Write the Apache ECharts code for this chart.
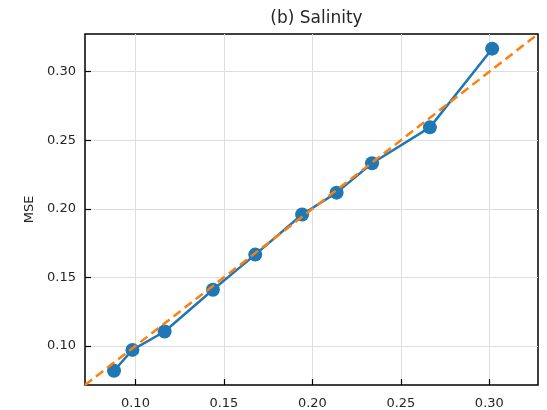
<!DOCTYPE html>
<html>
<head>
<meta charset="utf-8">
<script src="https://cdn.jsdelivr.net/npm/echarts@6/dist/echarts.min.js"></script>
<style>html,body{margin:0;padding:0;background:#fff;}#c{width:547px;height:410px;}</style>
</head>
<body>
<div id="c"></div>
<script>
const titleText = "(b) Salinity";
const yName = "MSE";
const xValues = [0.0879, 0.0983, 0.1165, 0.1438, 0.1677, 0.1942, 0.2137, 0.2337, 0.2664, 0.3016];
const yValues = [0.0819, 0.0971, 0.1105, 0.1410, 0.1666, 0.1959, 0.2118, 0.2332, 0.2594, 0.3168];
const tickValues = [0.10, 0.15, 0.20, 0.25, 0.30];
const axisMin = 0.0715;
const axisMax = 0.3275;

const chart = echarts.init(document.getElementById('c'), null, {renderer: 'canvas'});
const font = 'DejaVu Sans';
function axisCommon() {
  return {
    type: 'value', min: axisMin, max: axisMax,
    axisLine: {show: false},
    axisTick: {show: true, inside: true, length: 6, customValues: tickValues, lineStyle: {color: '#000', width: 1.2}},
    axisLabel: {customValues: tickValues, formatter: v => v.toFixed(2), fontFamily: font, fontSize: 13, color: '#262626'},
    splitLine: {show: true, lineStyle: {color: '#dedede', width: 1}}
  };
}
const xa = axisCommon(); xa.axisLabel.margin = 12;
const ya = axisCommon(); ya.axisLabel.margin = 9;
ya.name = yName; ya.nameLocation = 'middle'; ya.nameGap = 47;
ya.nameTextStyle = {fontFamily: font, fontSize: 13, color: '#262626'};

chart.setOption({
  animation: false,
  title: {text: titleText, left: 311.5, textAlign: 'center', top: 5,
    textStyle: {fontFamily: font, fontSize: 17, fontWeight: 'normal', color: '#262626'}},
  grid: {left: 85, right: 9, top: 34, bottom: 25, show: true, borderColor: '#000', borderWidth: 1.5, backgroundColor: 'transparent'},
  xAxis: xa,
  yAxis: ya,
  series: [
    {type: 'line', data: xValues.map((x, i) => [x, yValues[i]]), symbol: 'circle', symbolSize: 14,
     itemStyle: {color: '#1f77b4'}, lineStyle: {color: '#1f77b4', width: 2.5}, z: 2},
    {type: 'line', data: [[axisMin, axisMin], [axisMax, axisMax]], symbol: 'none', clip: true,
     lineStyle: {color: '#ff7f0e', width: 2.5, type: [9, 5]}, z: 3}
  ]
});
</script>
</body>
</html>
